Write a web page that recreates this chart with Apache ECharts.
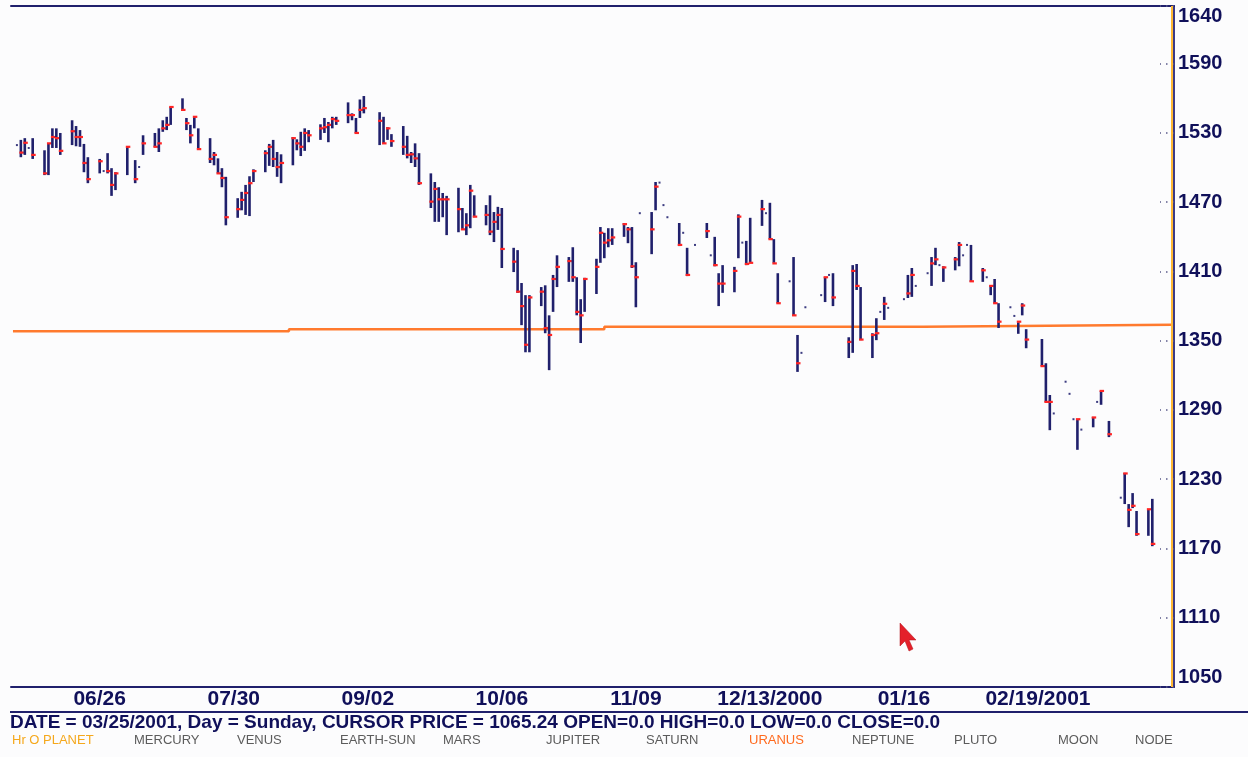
<!DOCTYPE html>
<html>
<head>
<meta charset="utf-8">
<script src="https://cdn.jsdelivr.net/npm/echarts@6/dist/echarts.min.js"></script>
<style>
  html, body { margin: 0; padding: 0; background: #fcfcfd; }
  #chart { width: 1248px; height: 757px; }
</style>
</head>
<body>
<div id="chart"></div>
<script>
// Daily price bars (high / low / close); a null close marks a single-print day
const tradeDates = [
  '2000-06-05','2000-06-06','2000-06-07','2000-06-08','2000-06-09',
  '2000-06-12','2000-06-13','2000-06-14','2000-06-15','2000-06-16',
  '2000-06-19','2000-06-20','2000-06-21','2000-06-22','2000-06-23',
  '2000-06-26','2000-06-27','2000-06-28','2000-06-29','2000-06-30',
  '2000-07-03','2000-07-05','2000-07-06','2000-07-07',
  '2000-07-10','2000-07-11','2000-07-12','2000-07-13','2000-07-14',
  '2000-07-17','2000-07-18','2000-07-19','2000-07-20','2000-07-21',
  '2000-07-24','2000-07-25','2000-07-26','2000-07-27','2000-07-28',
  '2000-07-31','2000-08-01','2000-08-02','2000-08-03','2000-08-04',
  '2000-08-07','2000-08-08','2000-08-09','2000-08-10','2000-08-11',
  '2000-08-14','2000-08-15','2000-08-16','2000-08-17','2000-08-18',
  '2000-08-21','2000-08-22','2000-08-23','2000-08-24','2000-08-25',
  '2000-08-28','2000-08-29','2000-08-30','2000-08-31','2000-09-01',
  '2000-09-05','2000-09-06','2000-09-07','2000-09-08',
  '2000-09-11','2000-09-12','2000-09-13','2000-09-14','2000-09-15',
  '2000-09-18','2000-09-19','2000-09-20','2000-09-21','2000-09-22',
  '2000-09-25','2000-09-26','2000-09-27','2000-09-28','2000-09-29',
  '2000-10-02','2000-10-03','2000-10-04','2000-10-05','2000-10-06',
  '2000-10-09','2000-10-10','2000-10-11','2000-10-12','2000-10-13',
  '2000-10-16','2000-10-17','2000-10-18','2000-10-19','2000-10-20',
  '2000-10-23','2000-10-24','2000-10-25','2000-10-26','2000-10-27',
  '2000-10-30','2000-10-31','2000-11-01','2000-11-02','2000-11-03',
  '2000-11-06','2000-11-07','2000-11-08','2000-11-09','2000-11-10',
  '2000-11-13','2000-11-14','2000-11-15','2000-11-16','2000-11-17',
  '2000-11-20','2000-11-21','2000-11-22','2000-11-24',
  '2000-11-27','2000-11-28','2000-11-29','2000-11-30','2000-12-01',
  '2000-12-04','2000-12-05','2000-12-06','2000-12-07','2000-12-08',
  '2000-12-11','2000-12-12','2000-12-13','2000-12-14','2000-12-15',
  '2000-12-18','2000-12-19','2000-12-20','2000-12-21','2000-12-22',
  '2000-12-26','2000-12-27','2000-12-28','2000-12-29',
  '2001-01-02','2001-01-03','2001-01-04','2001-01-05',
  '2001-01-08','2001-01-09','2001-01-10','2001-01-11','2001-01-12',
  '2001-01-16','2001-01-17','2001-01-18','2001-01-19',
  '2001-01-22','2001-01-23','2001-01-24','2001-01-25','2001-01-26',
  '2001-01-29','2001-01-30','2001-01-31','2001-02-01','2001-02-02',
  '2001-02-05','2001-02-06','2001-02-07','2001-02-08','2001-02-09',
  '2001-02-12','2001-02-13','2001-02-14','2001-02-15','2001-02-16',
  '2001-02-20','2001-02-21','2001-02-22','2001-02-23',
  '2001-02-26','2001-02-27','2001-02-28','2001-03-01','2001-03-02',
  '2001-03-05','2001-03-06','2001-03-07','2001-03-09',
  '2001-03-12','2001-03-13','2001-03-14','2001-03-15','2001-03-16',
  '2001-03-19','2001-03-20'
];
const highs = [
  1519.5,1524,1525.5,1517,1525.5,
  1515,1521,1534,1534,1530,
  1541,1536,1532.5,1520.5,1509,
  1507.5,1497,1512.5,1499.5,1496,
  1518,1506.5,1500.5,1528,
  1530,1534,1541,1544,1552.5,
  1560,1543,1537,1544,1534,
  1525.5,1513.5,1508,1499.5,1492,
  1473.5,1479,1485,1492.5,1498.5,
  1515,1520.5,1524,1513.5,1511.5,
  1526.5,1524.5,1531,1534,1532.5,
  1537.5,1543,1539.5,1544,1544,
  1556.5,1547,1543,1559,1562,
  1548,1544,1535,1529,
  1536,1527.5,1513.5,1521,1512.5,
  1495,1487.5,1483,1478,1475.5,
  1482.5,1465,1460.5,1485,1476,
  1467.5,1476,1461.5,1466,1465,
  1430.5,1428.5,1400,1389.5,1389.5,
  1396.5,1398,1372,1407,1424,
  1422.5,1431,1405,1386,1404.5,
  1421,1448.5,1443.5,1447.5,1447.5,
  1452,1448.5,1448.5,1418,1460.5,
  1461.5,1487.5,1487,1467.5,1457,
  1452,1443.5,1430.5,1433,
  1452,1424,1440,1408.5,1415.5,
  1414,1459.5,1435,1436.5,1456.5,
  1472,1460.5,1469.5,1438,1408.5,
  1401.5,1422.5,1355,1339.5,1379,
  1389.5,1405,1407,1408.5,
  1353,1415.5,1416.5,1396.5,
  1356.5,1369.5,1375,1388,1378.5,
  1386,1407,1413,1397.5,
  1408.5,1422.5,1430.5,1415.5,1414.5,
  1422.5,1435.5,1424,1433,1433,
  1413,1405,1398,1403.5,1382.5,
  1379,1371.5,1366,1382.5,1360,
  1351.5,1330.5,1303,1287,
  1314.5,1304,1282,1282,1273,
  1284,1297,1306.5,1280.5,
  1214,1235.5,1208.5,1218,1202.5,
  1204,1213
];
const lows = [
  1519.5,1509,1511,1517,1507.5,
  1493.5,1493.5,1517,1517,1511,
  1519.5,1518.5,1518,1496,1486.5,
  1495,1497,1495,1475.5,1480.5,
  1493.5,1486.5,1500.5,1511,
  1518,1513.5,1531,1532.5,1537,
  1550,1532.5,1521,1534,1516,
  1504,1502,1495,1483,1450,
  1456.5,1463,1459,1458,1487.5,
  1496,1501.5,1500.5,1492,1486.5,
  1502,1515,1510,1514.5,1522,
  1524,1530,1522,1534,1537,
  1538.5,1541,1530,1543,1547,
  1519.5,1521,1524,1518,
  1511,1508,1504,1500.5,1485,
  1465,1453,1453,1457,1441.5,
  1444,1446,1441.5,1447.5,1457,
  1450,1441.5,1435.5,1446,1413,
  1409.5,1391.5,1363.5,1340,1340,
  1380,1356.5,1324.5,1375,1396.5,
  1401,1401,1372,1348,1375,
  1390.5,1417.5,1421.5,1431,1433,
  1440,1434.5,1413,1379,1460.5,
  1425,1463,1487,1467.5,1457,
  1432,1443.5,1406,1433,
  1439,1424,1414.5,1380,1391.5,
  1392,1421.5,1435,1415.5,1417.5,
  1449.5,1460.5,1438,1417.5,1382.5,
  1401.5,1371.5,1323,1339.5,1379,
  1389.5,1383.5,1407,1380,
  1335,1339.5,1394,1350.5,
  1335,1350.5,1375,1368,1378.5,
  1386,1387,1388,1397.5,
  1408.5,1397.5,1415.5,1415.5,1401,
  1411,1414.5,1424,1433,1401,
  1401,1405,1389.5,1382.5,1361,
  1379,1371.5,1356,1372,1343.5,
  1328,1297,1272.5,1287,
  1314.5,1304,1282,1255.5,1273,
  1275,1297,1294.5,1266.5,
  1214,1208.5,1188.5,1205,1181,
  1181,1172
];
const closes = [
  null,1513,1521.5,null,1511,
  1495,1521,1526.5,1525.5,1514.5,
  1531.5,1526.5,1526.5,1504,1490,
  1505.5,null,1497,1485,1495,
  1518,1490,null,1521,
  1518,1521,1534,1537,1552.5,
  1550,1538.5,1528,1544,1516,
  1507.5,1511,1495,1491,1457,
  1464,1472,1478,1486.5,1497,
  1512.5,1518,1507.5,1500.5,1504,
  1525.5,1521,1518,1530,1528,
  1534,1535,1537,1542,1540.5,
  1545.5,1545.5,1530,1550,1551.5,
  1540.5,1521,1534,1523,
  1518,1511,1511.5,1508,1486.5,
  1470.5,1481.5,1472.5,1472.5,1472.5,
  1464,1446.5,1450,1480,1457.5,
  1459,1444.5,1453,1459,1429.5,
  1418.5,1392.5,1380,1346.5,1387.5,
  1392.5,1361,1355,1403.5,1414,
  1419,1405,1375,1372,1403.5,
  1414,1443.5,1435,1437,1439.5,
  1451,1446.5,1414.5,1405,null,
  1446.5,1483.5,null,null,null,
  1433,null,1407,null,
  1445,null,1415.5,1399.5,1399.5,
  1410.5,1457.5,null,1416.5,1417.5,
  1464,null,1438,1417,1382.5,
  null,1372,1330.5,null,null,
  null,1405,null,1387.5,
  1349,1410.5,1397.5,1351,
  1355,1356.5,null,1382,null,
  null,1391,1407,null,
  null,1417,1420.5,null,1413.5,
  1420.5,1433,null,null,1401.5,
  1411,null,1397.5,1382.5,1366.5,
  null,null,1366.5,1380.5,1351,
  1328,1297,1297,null,
  null,null,null,1282,null,
  1283.5,null,1306.5,1269,
  null,1235,1203.5,1207,1182.5,
  1204,1174
];

// Planetary price line: level changes on these dates
const uranusDates = ['2000-06-04', '2000-08-13', '2000-11-01', '2001-01-21', '2001-03-25'];
const uranusValues = [1358.2, 1360.0, 1362.1, 1363.8, 1363.8];

// Date axis labels
const tickDates = ['2000-06-26', '2000-07-30', '2000-09-02', '2000-10-06', '2000-11-09', '2000-12-13', '2001-01-16', '2001-02-19'];
const tickLabels = ['06/26', '07/30', '09/02', '10/06', '11/09', '12/13/2000', '01/16', '02/19/2001'];

// Chart span and cursor
const firstDay = '2000-06-04';
const lastDay = '2001-03-25';
const cursorDate = '2001-03-25';
const statusLine = 'DATE = 03/25/2001, Day = Sunday, CURSOR PRICE = 1065.24 OPEN=0.0 HIGH=0.0 LOW=0.0 CLOSE=0.0';
const planetNames = ['Hr O PLANET', 'MERCURY', 'VENUS', 'EARTH-SUN', 'MARS', 'JUPITER', 'SATURN', 'URANUS', 'NEPTUNE', 'PLUTO', 'MOON', 'NODE'];

// ---- build a calendar-day category axis ----
function fmt(d) {
  const m = String(d.getUTCMonth() + 1).padStart(2, '0');
  const dd = String(d.getUTCDate()).padStart(2, '0');
  return d.getUTCFullYear() + '-' + m + '-' + dd;
}
const calendar = [];
for (let t = Date.parse(firstDay + 'T00:00:00Z'); t <= Date.parse(lastDay + 'T00:00:00Z'); t += 86400000) {
  calendar.push(fmt(new Date(t)));
}
const dayIndex = {};
calendar.forEach((d, i) => { dayIndex[d] = i; });
const labelOf = {};
tickDates.forEach((d, i) => { labelOf[d] = tickLabels[i]; });

const barData = tradeDates.map((d, i) => [dayIndex[d], highs[i], lows[i], closes[i] == null ? '-' : closes[i]]);

const NAVY = '#20206c';
const TEXT = '#10105a';
const FONT = '"Liberation Sans", Arial, sans-serif';

const chart = echarts.init(document.getElementById('chart'), null, { renderer: 'canvas' });

const planetX = [12, 134, 237, 340, 443, 546, 646, 749, 852, 954, 1058, 1135];
const planetColor = name => name === 'Hr O PLANET' ? '#f5a81c' : (name === 'URANUS' ? '#ff6a1e' : '#5c5c5c');

chart.setOption({
  backgroundColor: '#fcfcfd',
  animation: false,
  grid: { left: 11, right: 74, top: 6, bottom: 70, containLabel: false },
  xAxis: [{
    type: 'category',
    data: calendar,
    boundaryGap: true,
    axisLine: { lineStyle: { color: NAVY, width: 2 } },
    axisTick: {
      inside: true, length: 20, alignWithLabel: true,
      interval: (i, v) => labelOf.hasOwnProperty(v),
      lineStyle: { color: '#5a5a8a', width: 1.5, type: [1.5, 6.5] }
    },
    axisLabel: {
      interval: (i, v) => labelOf.hasOwnProperty(v),
      formatter: v => labelOf[v] || '',
      margin: 2,
      color: TEXT, fontFamily: FONT, fontWeight: 'bold', fontSize: 21
    },
    splitLine: { show: false }
  }, {
    type: 'category',
    data: calendar,
    position: 'top',
    axisLine: { lineStyle: { color: NAVY, width: 2 } },
    axisTick: { show: false },
    axisLabel: { show: false }
  }],
  yAxis: {
    type: 'value',
    position: 'right',
    min: 1050, max: 1640, interval: 60,
    axisLine: { show: true, lineStyle: { color: '#3a3a86', width: 2 } },
    axisTick: {
      show: true, inside: true, length: 14,
      lineStyle: { color: '#5a5a8a', width: 1.5, type: [1.5, 5] }
    },
    axisLabel: {
      margin: 4,
      formatter: v => String(v),
      color: TEXT, fontFamily: FONT, fontWeight: 'bold', fontSize: 20,
      verticalAlignMinLabel: 'bottom', verticalAlignMaxLabel: 'top'
    },
    splitLine: { show: false }
  },
  series: [{
    type: 'line',
    step: 'end',
    data: uranusDates.map((d, i) => [d, uranusValues[i]]),
    showSymbol: false,
    lineStyle: { color: '#ff7a2e', width: 2.5 },
    markLine: {
      silent: true, symbol: 'none',
      label: { show: false },
      lineStyle: { color: '#ffb833', width: 2, type: 'solid' },
      data: [{ xAxis: cursorDate }]
    },
    z: 2
  }, {
    type: 'custom',
    data: barData,
    encode: { x: 0, y: [1, 2, 3] },
    z: 3,
    renderItem: (params, api) => {
      const x = api.value(0);
      const h = api.value(1), l = api.value(2), c = api.value(3);
      const top = api.coord([x, h]);
      const bot = api.coord([x, l]);
      const children = [];
      if (h === l) {
        children.push({ type: 'rect', shape: { x: top[0] - 1, y: top[1] - 1, width: 2, height: 2 }, style: { fill: '#3c3c80' } });
      } else {
        children.push({ type: 'line', shape: { x1: top[0], y1: top[1], x2: bot[0], y2: bot[1] }, style: { stroke: NAVY, lineWidth: 2.6 } });
      }
      if (!isNaN(c)) {
        const p = api.coord([x, c]);
        children.push({ type: 'line', shape: { x1: p[0] - 1.5, y1: p[1], x2: p[0] + 3, y2: p[1] }, style: { stroke: '#ff2424', lineWidth: 2.2 } });
      }
      return { type: 'group', children };
    }
  }],
  graphic: [
    { type: 'line', shape: { x1: 10, y1: 712, x2: 1248, y2: 712 }, style: { stroke: NAVY, lineWidth: 2 } },
    { type: 'text', left: 10, top: 713, style: { text: statusLine, fill: TEXT, font: 'bold 19px ' + FONT } },
    ...planetNames.map((n, i) => ({
      type: 'text', left: planetX[i], top: 734,
      style: { text: n, fill: planetColor(n), font: '13px ' + FONT }
    })),
    {
      type: 'polygon',
      shape: { points: [[900, 623], [900, 646], [905, 641], [909, 651], [913, 649], [909, 640], [916, 640]] },
      style: { fill: '#e4202a', stroke: '#b01018', lineWidth: 0.5 }
    }
  ]
});
</script>
</body>
</html>
